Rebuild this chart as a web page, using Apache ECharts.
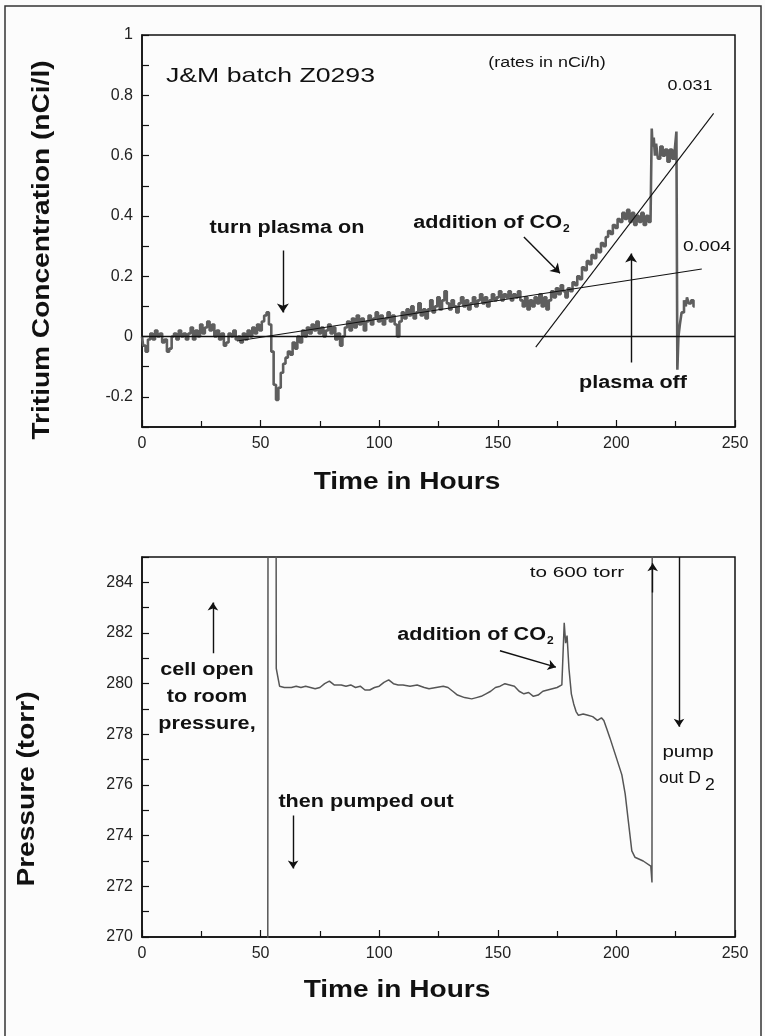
<!DOCTYPE html>
<html><head><meta charset="utf-8">
<script src="https://cdn.jsdelivr.net/npm/echarts@6/dist/echarts.min.js"></script>
<style>html,body{margin:0;padding:0;background:#fcfcfc}#c{width:765px;height:1036px}</style>
</head><body><div id="c"></div><script>
// ---- data ----
const xTickLabels = [0, 50, 100, 150, 200, 250];
const concTicks = [-0.2, 0, 0.2, 0.4, 0.6, 0.8, 1];
const pressureTicks = [270, 272, 274, 276, 278, 280, 282, 284];

// Tritium concentration (nCi/l) vs time (h)
const concData = [
[0,0.00],[1,-0.03],[2,-0.05],[3,-0.01],[4,0.01],[5,-0.01],[6,0.02],[7,0.00],[8,0.01],[9,-0.02],
[10,-0.01],[11,-0.05],[12,-0.04],[13,0.00],[14,0.01],[15,-0.01],[16,0.02],[17,0.00],[18,0.01],[19,-0.01],
[20,0.01],[21,0.03],[22,-0.01],[23,0.02],[24,0.00],[25,0.04],[26,0.01],[27,0.03],[28,0.05],[29,0.02],
[30,0.04],[31,0.00],[32,0.02],[33,-0.01],[34,0.01],[35,-0.03],[36,-0.02],[37,0.01],[38,0.00],[39,0.02],
[40,-0.01],[41,0.00],[42,-0.02],[43,0.01],[44,-0.01],[45,0.02],[46,0.00],[47,0.03],[48,0.01],[49,0.04],
[50,0.02],[51,0.05],[52,0.07],[53,0.08],[54,0.04],[55,-0.05],[56,-0.16],[57,-0.21],[58,-0.17],[59,-0.12],
[60,-0.09],[61,-0.07],[62,-0.05],[63,-0.06],[64,-0.02],[65,-0.04],[66,0.00],[67,-0.02],[68,0.02],[69,0.00],
[70,0.03],[71,0.01],[72,0.04],[73,0.02],[74,0.05],[75,0.01],[76,0.03],[77,0.00],[78,0.02],[79,0.04],
[80,0.01],[81,0.03],[82,-0.01],[83,0.01],[84,-0.03],[85,0.00],[86,0.03],[87,0.05],[88,0.02],[89,0.06],
[90,0.03],[91,0.07],[92,0.04],[93,0.06],[94,0.02],[95,0.05],[96,0.07],[97,0.04],[98,0.06],[99,0.08],
[100,0.05],[101,0.07],[102,0.04],[103,0.06],[104,0.08],[105,0.05],[106,0.07],[107,0.04],[108,0.00],[109,0.05],
[110,0.08],[111,0.06],[112,0.09],[113,0.07],[114,0.10],[115,0.06],[116,0.08],[117,0.11],[118,0.07],[119,0.09],
[120,0.06],[121,0.09],[122,0.12],[123,0.08],[124,0.10],[125,0.13],[126,0.09],[127,0.12],[128,0.15],[129,0.11],
[130,0.09],[131,0.12],[132,0.10],[133,0.08],[134,0.11],[135,0.13],[136,0.10],[137,0.12],[138,0.09],[139,0.11],
[140,0.13],[141,0.10],[142,0.12],[143,0.14],[144,0.11],[145,0.13],[146,0.10],[147,0.12],[148,0.14],[149,0.12],
[150,0.13],[151,0.15],[152,0.12],[153,0.14],[154,0.13],[155,0.15],[156,0.12],[157,0.14],[158,0.13],[159,0.15],
[160,0.12],[161,0.10],[162,0.13],[163,0.09],[164,0.12],[165,0.10],[166,0.13],[167,0.11],[168,0.14],[169,0.10],
[170,0.13],[171,0.09],[172,0.12],[173,0.15],[174,0.13],[175,0.16],[176,0.14],[177,0.17],[178,0.15],[179,0.13],
[180,0.16],[181,0.15],[182,0.18],[183,0.17],[184,0.20],[185,0.19],[186,0.23],[187,0.22],[188,0.25],[189,0.24],
[190,0.27],[191,0.26],[192,0.29],[193,0.28],[194,0.31],[195,0.30],[196,0.33],[197,0.35],[198,0.34],[199,0.37],
[200,0.36],[201,0.39],[202,0.38],[203,0.41],[204,0.39],[205,0.42],[206,0.38],[207,0.41],[208,0.37],[209,0.40],
[210,0.38],[211,0.41],[212,0.37],[213,0.40],[214,0.38],[214.8,0.39],[215,0.69],[215.5,0.63],[216,0.66],[216.5,0.60],
[217,0.64],[218,0.59],[219,0.63],[220,0.60],[221,0.62],[222,0.58],[223,0.62],[224,0.59],[225,0.61],[225.6,0.68],
[225.8,-0.11],[226.5,0.00],[227,0.04],[228,0.08],[229,0.12],[229.5,0.10],[230,0.13],[231,0.11],[232,0.12],[233,0.10]
];
const zeroLine = [[0,0],[250,0]];
const slowRateLine = [[40,-0.015],[236,0.224]];   // 0.004
const fastRateLine = [[166,-0.035],[241,0.74]];   // 0.031

// Pressure (torr) vs time (h)
const pressureData = [
[53.0,265],[53.2,300],[56.4,300],[56.6,280.6],[57.2,280.3],[58.0,279.9],[60,279.85],[63,279.85],[65,279.9],[67,279.85],
[69,279.9],[71,279.85],[73,279.8],[75,279.85],[77,280.0],[79,280.1],[81,279.95],[84,279.95],[86,279.9],[88,279.95],
[90,279.85],[92,279.9],[94,279.75],[96,279.75],[98,279.85],[100,279.9],[102,280.05],[104,280.15],[106,280.0],[108,279.95],
[110,279.95],[113,279.9],[116,279.95],[119,279.85],[121,279.8],[124,279.85],[127,279.9],[129,279.85],[131,279.7],[133,279.55],
[136,279.45],[139,279.4],[141,279.45],[143,279.5],[145,279.6],[147,279.7],[149,279.85],[151,279.9],[153,280.0],[155,279.95],
[157,279.9],[159,279.7],[161,279.6],[163,279.65],[165,279.5],[167,279.55],[169,279.7],[171,279.75],[173,279.8],[175,279.85],
[177,279.95],[177.8,279.95],[178.0,282.4],[178.6,281.6],[179.2,281.9],[180,280.6],[181,279.6],[182,279.2],[183,278.9],[184,278.75],
[186,278.8],[188,278.75],[190,278.7],[192,278.55],[193.7,278.65],[194.7,278.55],[196,278.2],[197.3,277.85],[200,277.07],[202.3,276.4],
[203.7,275.65],[205,274.6],[206.5,273.4],[207.8,273.15],[211.3,273.0],[214.5,272.8],[215,272.15],[215.2,300]
];

// annotation arrows [from, to] in data units
const concArrows = [
  [[59.4,0.285],[59.4,0.08]],
  [[161,0.33],[176.2,0.21]],
  [[206.2,-0.086],[206.2,0.275]]
];
const pressureArrows = [
  [[29.9,281.2],[29.9,283.2]],
  [[63.7,274.8],[63.7,272.7]],
  [[150.9,281.3],[174.5,280.65]],
  [[215.3,283.6],[215.3,284.75]],
  [[226.4,285],[226.4,278.3]]
];

// ---- chart ----
const FF = "'Liberation Sans', Arial, sans-serif";
const ink = '#111';
const chart = echarts.init(document.getElementById('c'), null, {renderer:'canvas'});

function xAxis(gi){
  return {type:'value', gridIndex:gi, min:0, max:250, interval:50,
    axisLine:{show:true, onZero:false, lineStyle:{color:ink, width:1.5}},
    axisTick:{show:true, inside:true, length:7, lineStyle:{color:ink, width:1.2}},
    minorTick:{show:true, splitNumber:2, length:6, lineStyle:{color:ink, width:1.2}},
    splitLine:{show:false}, minorSplitLine:{show:false},
    axisLabel:{fontFamily:FF, fontSize:16, color:'#222', margin:9,
      formatter:v => xTickLabels.includes(Math.round(v)) ? String(Math.round(v)) : ''}};
}

const option = {
  animation:false,
  backgroundColor:'#fcfcfc',
  grid:[
    {left:142, top:35, width:593, height:392, show:true, borderColor:ink, borderWidth:1.5, backgroundColor:'transparent'},
    {left:142, top:557, width:593, height:380, show:true, borderColor:ink, borderWidth:1.5, backgroundColor:'transparent'}
  ],
  xAxis:[xAxis(0), xAxis(1)],
  yAxis:[
    {type:'value', gridIndex:0, min:-0.3, max:1, interval:0.1,
      axisLine:{show:true, onZero:false, lineStyle:{color:ink, width:1.5}},
      axisTick:{show:true, inside:true, length:7, lineStyle:{color:ink, width:1.2}},
      splitLine:{show:false},
      axisLabel:{fontFamily:FF, fontSize:16, color:'#222', margin:9,
        formatter:v => { const r = Math.round(v*10)/10; return concTicks.includes(r) ? String(r) : ''; }}},
    {type:'value', gridIndex:1, min:270, max:285, interval:1,
      axisLine:{show:true, onZero:false, lineStyle:{color:ink, width:1.5}},
      axisTick:{show:true, inside:true, length:7, lineStyle:{color:ink, width:1.2}},
      splitLine:{show:false},
      axisLabel:{fontFamily:FF, fontSize:16, color:'#222', margin:9,
        formatter:v => pressureTicks.includes(Math.round(v)) ? String(Math.round(v)) : ''}}
  ],
  series:[
    {type:'line', xAxisIndex:0, yAxisIndex:0, data:concData, showSymbol:false, symbol:'none', step:'middle',
      lineStyle:{color:'#5e5e5e', width:2.6}, clip:true, z:2},
    {type:'line', xAxisIndex:0, yAxisIndex:0, data:zeroLine, showSymbol:false, symbol:'none',
      lineStyle:{color:ink, width:1.5}, z:3},
    {type:'line', xAxisIndex:0, yAxisIndex:0, data:slowRateLine, showSymbol:false, symbol:'none',
      lineStyle:{color:ink, width:1.1}, z:3},
    {type:'line', xAxisIndex:0, yAxisIndex:0, data:fastRateLine, showSymbol:false, symbol:'none',
      lineStyle:{color:ink, width:1.1}, z:3},
    {type:'line', xAxisIndex:1, yAxisIndex:1, data:pressureData, showSymbol:false, symbol:'none',
      lineStyle:{color:'#555', width:1.5}, clip:true, z:2},
    {type:'lines', coordinateSystem:'cartesian2d', xAxisIndex:0, yAxisIndex:0,
      symbol:['none','arrow'], symbolSize:9, lineStyle:{color:ink, width:1.4, opacity:1},
      data:concArrows.map(c => ({coords:c})), z:4},
    {type:'lines', coordinateSystem:'cartesian2d', xAxisIndex:1, yAxisIndex:1,
      symbol:['none','arrow'], symbolSize:8, lineStyle:{color:ink, width:1.4, opacity:1},
      data:pressureArrows.map(c => ({coords:c})), z:4}
  ],
  graphic:[]
};

const SX = 1.2;
function txt(x, y, text, font, align, rot, sx){
  const el = {type:'text', x:x, y:y, z:100, silent:true, scaleX:(sx || SX),
    style:{text:text, font:font, fill:'#111', textAlign:align||'center', textVerticalAlign:'middle',
           align:align||'center', verticalAlign:'middle'}};
  if (rot) el.rotation = rot;
  return el;
}
const B18 = "bold 18px " + FF;
const B24 = "bold 24px " + FF;
option.graphic = [
  {type:'rect', shape:{x:5, y:6, width:756, height:1040}, style:{fill:'none', stroke:'#333', lineWidth:1.5}, silent:true},
  // top chart
  txt(166, 76, 'J&M batch Z0293', "21px " + FF, 'left', 0, 1.27),
  txt(547, 63, '(rates in nCi/h)', "14px " + FF, 'center', 0, 1.28),
  txt(690, 86, '0.031', "14px " + FF, 'center', 0, 1.28),
  txt(707, 247, '0.004', "15px " + FF, 'center', 0, 1.28),
  txt(287, 228, 'turn plasma on', B18),
  txt(562, 223, 'addition of CO', B18, 'right'),
  txt(563, 229, '2', "bold 10px " + FF, 'left'),
  txt(633, 383, 'plasma off', B18),
  txt(407, 482, 'Time in Hours', B24, 'center', 0, 1.17),
  txt(42, 250, 'Tritium Concentration (nCi/l)', B24, 'center', Math.PI/2, 1.17),
  // bottom chart
  txt(577, 573, 'to 600 torr', "15px " + FF, 'center', 0, 1.38),
  txt(546, 635, 'addition of CO', B18, 'right'),
  txt(547, 641, '2', "bold 10px " + FF, 'left'),
  txt(207, 670, 'cell open', B18),
  txt(207, 697, 'to room', B18),
  txt(207, 724, 'pressure,', B18),
  txt(366, 802, 'then pumped out', B18),
  txt(688, 753, 'pump', "16px " + FF, 'center', 0, 1.28),
  txt(701, 779, 'out D', "16px " + FF, 'right', 0, 1.1),
  txt(705, 786, '2', "16px " + FF, 'left', 0, 1.1),
  txt(397, 990, 'Time in Hours', B24, 'center', 0, 1.17),
  txt(27, 789, 'Pressure (torr)', B24, 'center', Math.PI/2, 1.17)
];
chart.setOption(option);
</script></body></html>
